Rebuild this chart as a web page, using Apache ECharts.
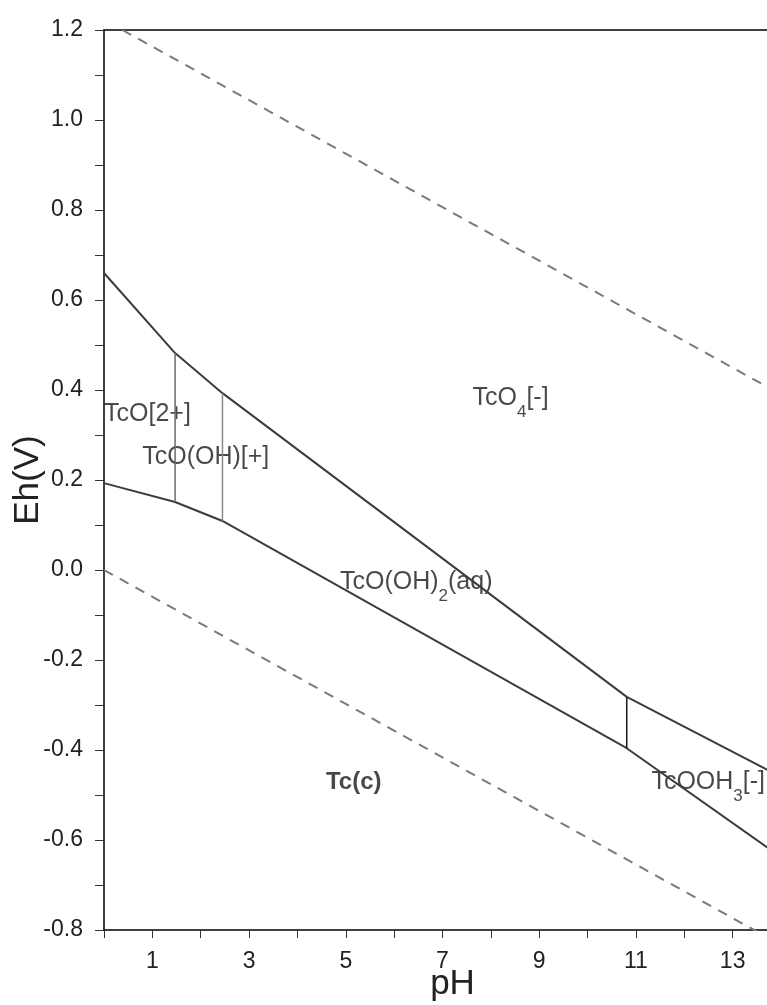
<!DOCTYPE html>
<html>
<head>
<meta charset="utf-8">
<script src="https://cdn.jsdelivr.net/npm/echarts@6/dist/echarts.min.js"></script>
<style>
html,body{margin:0;padding:0;background:#fff;}
#chart{width:767px;height:1005px;}
</style>
</head>
<body>
<div id="chart"></div>
<script>
// ---- data (pH, Eh in V) ----
const xTicks = [1, 3, 5, 7, 9, 11, 13];
const yTicks = [-0.8, -0.6, -0.4, -0.2, 0.0, 0.2, 0.4, 0.6, 0.8, 1.0, 1.2];

// upper stability limit of water (O2/H2O), dashed
const waterUpperPH = [0.38, 14];
const waterUpperEh = [1.2, 0.39];
// lower stability limit of water (H2O/H2), dashed
const waterLowerPH = [0, 14];
const waterLowerEh = [0.0, -0.833];

// TcO4[-] boundary (upper solid line)
const upperBoundaryPH = [0, 1.47, 2.45, 10.81, 14];
const upperBoundaryEh = [0.66, 0.482, 0.393, -0.282, -0.46];
// Tc(c) boundary (lower solid line)
const lowerBoundaryPH = [0, 1.47, 2.45, 10.81, 14];
const lowerBoundaryEh = [0.193, 0.151, 0.109, -0.396, -0.638];

// vertical species boundaries
const verticalPH = [1.47, 2.45, 10.81];
const verticalTopEh = [0.482, 0.393, -0.282];
const verticalBottomEh = [0.151, 0.109, -0.396];

// species labels (anchor = left edge / vertical middle, in pH / Eh)
const labelText = ['TcO[2+]', 'TcO(OH)[+]', 'TcO{s|4}[-]', 'TcO(OH){s|2}(aq)', '{b|Tc(c)}', 'TcOOH{s|3}[-]'];
const labelPH = [0.0, 0.79, 7.62, 4.88, 4.59, 11.32];
const labelEh = [0.347, 0.251, 0.382, -0.027, -0.471, -0.471];

const zip = (xs, ys) => xs.map((x, i) => [x, ys[i]]);

const chart = echarts.init(document.getElementById('chart'), null, {renderer: 'canvas'});

const series = [];
series.push({
  type: 'line', data: zip(waterUpperPH, waterUpperEh), symbol: 'none', silent: true,
  lineStyle: {color: '#7a7a7a', width: 2, type: [10, 8]}
});
series.push({
  type: 'line', data: zip(waterLowerPH, waterLowerEh), symbol: 'none', silent: true,
  lineStyle: {color: '#7a7a7a', width: 2, type: [10, 8]}
});
series.push({
  type: 'line', data: zip(upperBoundaryPH, upperBoundaryEh), symbol: 'none', silent: true,
  lineStyle: {color: '#3c3c3c', width: 2}
});
series.push({
  type: 'line', data: zip(lowerBoundaryPH, lowerBoundaryEh), symbol: 'none', silent: true,
  lineStyle: {color: '#3c3c3c', width: 2}
});
const vColors = ['#6a6a6a', '#8a8a8a', '#1a1a1a'];
verticalPH.forEach((p, i) => {
  series.push({
    type: 'line', data: [[p, verticalBottomEh[i]], [p, verticalTopEh[i]]], symbol: 'none', silent: true,
    lineStyle: {color: vColors[i], width: 1.5}
  });
});
series.push({
  type: 'scatter', symbolSize: 0, silent: true,
  data: labelText.map((t, i) => ({value: [labelPH[i], labelEh[i]], name: t})),
  label: {
    show: true, position: 'right', distance: 0,
    formatter: p => p.name,
    fontFamily: 'Liberation Sans', fontSize: 25, color: '#1a1a1a', lineHeight: 46,
    rich: {
      s: {fontFamily: 'Liberation Sans', fontSize: 17, lineHeight: 17, verticalAlign: 'bottom', color: '#1a1a1a'},
      b: {fontFamily: 'Liberation Sans', fontSize: 24, fontWeight: 'bold', lineHeight: 46, color: '#1a1a1a'}
    }
  }
});

const option = {
  animation: false,
  backgroundColor: '#fff',
  grid: {left: 104, right: -14, top: 30, bottom: 75, containLabel: false, outerBoundsMode: 'none'},
  xAxis: [{
    type: 'value', min: 0, max: 14, interval: 1,
    name: 'pH', nameLocation: 'middle', nameGap: 37, nameMoveOverlap: false,
    nameTextStyle: {fontFamily: 'Liberation Sans', fontSize: 35, color: '#222', padding: [0, 0, 0, 20]},
    axisLine: {show: true, onZero: false, lineStyle: {color: '#000', width: 1.5}},
    axisTick: {show: true, length: 8, lineStyle: {color: '#333', width: 1}},
    axisLabel: {
      margin: 20, fontFamily: 'Liberation Sans', fontSize: 23, color: '#222',
      formatter: v => (xTicks.indexOf(v) >= 0 ? String(v) : '')
    },
    splitLine: {show: false}
  }, {
    type: 'value', min: 0, max: 14, position: 'top',
    axisLine: {show: true, onZero: false, lineStyle: {color: '#000', width: 1.5}},
    axisTick: {show: false}, axisLabel: {show: false}, splitLine: {show: false}
  }],
  yAxis: {
    type: 'value', min: -0.8, max: 1.2, interval: 0.2,
    name: 'Eh(V)', nameLocation: 'middle', nameGap: 58, nameRotate: 90, nameMoveOverlap: false,
    nameTextStyle: {fontFamily: 'Liberation Sans', fontSize: 35, color: '#222'},
    axisLine: {show: true, onZero: false, lineStyle: {color: '#000', width: 1.5}},
    axisTick: {show: true, length: 9, lineStyle: {color: '#333', width: 1}},
    minorTick: {show: true, splitNumber: 2, length: 9, lineStyle: {color: '#333', width: 1}},
    axisLabel: {
      margin: 21, fontFamily: 'Liberation Sans', fontSize: 23, color: '#222',
      formatter: v => {
        const m = yTicks.find(t => Math.abs(t - v) < 1e-6);
        return m === undefined ? '' : m.toFixed(1);
      }
    },
    splitLine: {show: false},
    minorSplitLine: {show: false}
  },
  series: series
};
chart.setOption(option);
</script>
</body>
</html>
